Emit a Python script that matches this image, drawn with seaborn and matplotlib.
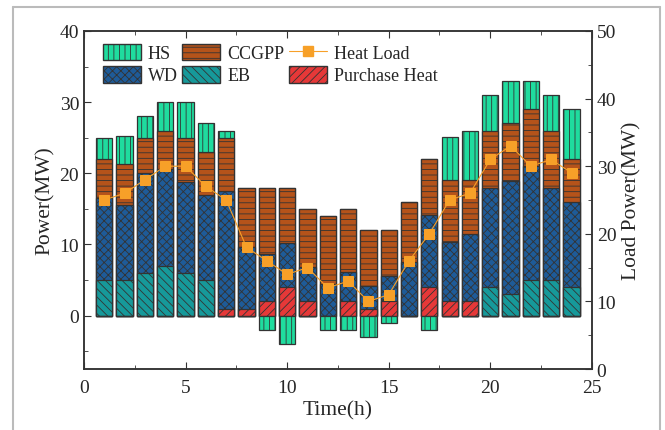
import numpy as np
import pandas as pd
import matplotlib
matplotlib.use("Agg")
import matplotlib.pyplot as plt
from matplotlib.patches import Patch
from matplotlib.lines import Line2D
from matplotlib.ticker import MultipleLocator
import seaborn as sns

hours = list(range(1, 25))
eb = [5, 5, 6, 7, 6, 5, 0, 0, 0, 0, 0, 0, 0, 0, 0, 0, 0, 0, 0, 4, 3, 5, 5, 4]
purchase = [0, 0, 0, 0, 0, 0, 1, 1, 2, 4, 2, 0, 2, 1, 2, 0, 4, 2, 2, 0, 0, 0, 0, 0]
wd = [11.6, 10.6, 14, 13.6, 12.8, 12, 16.5, 8.6, 6.7, 6.2, 4.9, 4.5, 4.1, 3.1, 3.6, 7.6, 10.2, 8.3, 9.5, 13.9, 15.9, 16, 12.9, 12]
ccgpp = [5.4, 5.7, 5, 5.4, 6.2, 6, 7.5, 8.4, 9.3, 7.8, 8.1, 9.5, 8.9, 7.9, 6.4, 8.4, 7.8, 8.8, 7.5, 8.1, 8.1, 8, 8.1, 6]
hs = [3, 4, 3, 4, 5, 4, 1, 0, -2, -4, 0, -2, -2, -3, -1, 0, -2, 6, 7, 5, 6, 4, 5, 7]
heat_load = [25, 26, 28, 30, 30, 27, 25, 18, 16, 14, 15, 12, 13, 10, 11, 16, 20, 25, 26, 31, 33, 30, 31, 29]

df = pd.DataFrame({"h": hours, "eb": eb, "pu": purchase, "wd": wd, "cc": ccgpp, "hs": hs, "load": heat_load})
df["base"] = df["eb"] + df["pu"]
df["c_wd"] = df["base"] + df["wd"]
df["c_cc"] = df["c_wd"] + df["cc"]
df["c_hs"] = df["c_cc"] + df["hs"].clip(lower=0)
df["hs_neg"] = df["hs"].clip(upper=0)

sns.set_style("ticks")
plt.rcParams["font.family"] = ["Liberation Serif", "DejaVu Serif"]
plt.rcParams["hatch.linewidth"] = 0.6
plt.rcParams["hatch.color"] = "#1a1a1a"

C_HS = "#1fdc9e"
C_CC = "#b5531a"
C_WD = "#1e5b98"
C_EB = "#16999a"
C_PU = "#e63838"
C_LOAD = "#f7a028"
EDGE = "#333333"

fig = plt.figure(figsize=(6.65, 4.31), dpi=100)
ax = fig.add_axes([0.1263, 0.1415, 0.7637, 0.7843])

def bars(col, color, hatch):
    sns.barplot(data=df, x="h", y=col, native_scale=True, width=0.8, color=color,
                hatch=hatch, edgecolor=EDGE, linewidth=0.9, saturation=1, ax=ax, errorbar=None)

bars("c_hs", C_HS, "|||")
bars("c_cc", C_CC, "---")
bars("c_wd", C_WD, "xxxx")
bars("eb", C_EB, "\\\\\\\\")
bars("pu", C_PU, "////")
bars("hs_neg", C_HS, "|||")

ax.set_xlim(0, 25)
ax.set_ylim(-7.5, 40)
ax.xaxis.set_minor_locator(MultipleLocator(2.5))
ax.yaxis.set_major_locator(MultipleLocator(10))
ax.yaxis.set_minor_locator(MultipleLocator(5))
ax.set_xticks([0, 5, 10, 15, 20, 25])
ax.set_xticklabels(["0", "5", "10", "15", "20", "25"])
ax.tick_params(which="both", direction="in", top=True, labelsize=14, color="#333333")
ax.tick_params(which="major", length=5)
ax.tick_params(which="minor", length=3)
ax.tick_params(axis="x", pad=7)
ax.set_xlabel("Time(h)", fontsize=15.5, labelpad=3)
ax.set_ylabel("Power(MW)", fontsize=15.5, labelpad=3)
for s in ax.spines.values():
    s.set_linewidth(1.1)
    s.set_color("#333333")

ax2 = ax.twinx()
sns.lineplot(data=df, x="h", y="load", ax=ax2, color=C_LOAD, linewidth=0.8,
             marker="s", markersize=6.5, markeredgecolor=C_LOAD, markerfacecolor=C_LOAD)
ax2.set_ylim(0, 50)
ax2.yaxis.set_major_locator(MultipleLocator(10))
ax2.yaxis.set_minor_locator(MultipleLocator(5))
ax2.tick_params(which="both", direction="in", labelsize=14, color="#333333")
ax2.tick_params(which="major", length=5)
ax2.tick_params(which="minor", length=3)
ax2.set_ylabel("Load Power(MW)", fontsize=15.5, labelpad=4)
ax2.set_xlabel("")
for s in ax2.spines.values():
    s.set_linewidth(1.1)
    s.set_color("#333333")

handles = [
    Patch(facecolor=C_HS, edgecolor=EDGE, hatch="|||", label="HS"),
    Patch(facecolor=C_WD, edgecolor=EDGE, hatch="xxxx", label="WD"),
    Patch(facecolor=C_CC, edgecolor=EDGE, hatch="---", label="CCGPP"),
    Patch(facecolor=C_EB, edgecolor=EDGE, hatch="\\\\\\\\", label="EB"),
    Line2D([], [], color=C_LOAD, linewidth=0.8, marker="s", markersize=6.5, label="Heat Load"),
    Patch(facecolor=C_PU, edgecolor=EDGE, hatch="////", label="Purchase Heat"),
]
ax2.legend(handles=handles, ncol=3, loc="upper left", bbox_to_anchor=(0.012, 1.0),
           frameon=False, fontsize=13, handlelength=2.1, handleheight=1.05,
           columnspacing=0.25, handletextpad=0.4, labelspacing=0.2, borderaxespad=0.3)

# light grey frame around the figure content
for xs, ys in [([13, 13], [0, 423]), ([13, 660], [423, 423]), ([660, 660], [423, 0])]:
    fig.add_artist(Line2D(np.array(xs) / 665, np.array(ys) / 431, color="#bbbbbb", linewidth=1.5,
                          transform=fig.transFigure))

fig.savefig("out.png", dpi=100)
